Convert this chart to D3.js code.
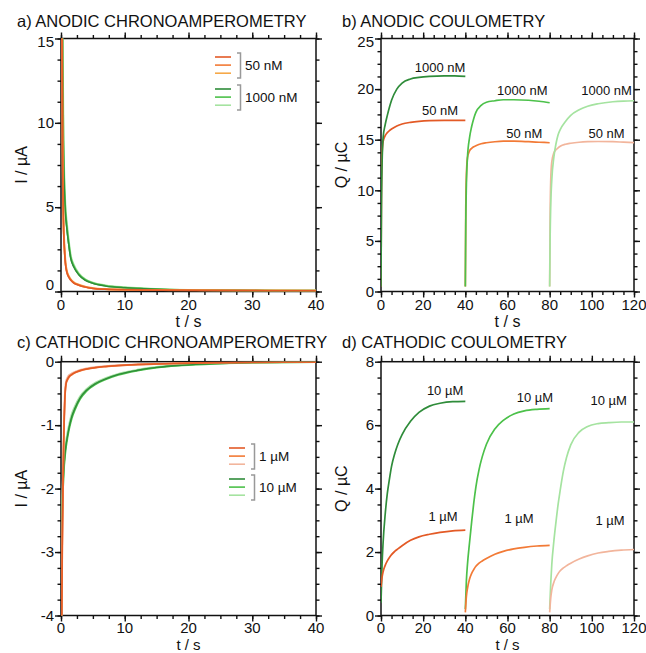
<!DOCTYPE html>
<html><head><meta charset="utf-8">
<script src="https://cdn.jsdelivr.net/npm/d3@7/dist/d3.min.js"></script>
<style>
body{margin:0;background:#fff;}
text{font-family:"Liberation Sans",Arial,Helvetica,sans-serif;fill:#111;}
</style></head>
<body>
<svg id="chart" width="646" height="653"></svg>
<script>
// ---------- DATA ----------
const titles = ["a) ANODIC CHRONOAMPEROMETRY","b) ANODIC COULOMETRY","c) CATHODIC CHRONOAMPEROMETRY","d) CATHODIC COULOMETRY"];
const xLabel = "t / s";
const yLabels = ["I / µA","Q / µC","I / µA","Q / µC"];

// panel a: anodic chronoamperometry (I / uA vs t / s)
const tA = [0.05,0.1,0.16,0.26,0.4,0.55,0.7,0.9,1.2,1.5,2,2.8,3.8,5,7,10,13,17,22,28,34,40];
const a50_1 = [40,24,15,7.6,3.8,2.4,1.6,1.15,0.85,0.68,0.5,0.37,0.26,0.18,0.13,0.1,0.085,0.075,0.065,0.055,0.05,0.045];
const a50_2 = [41,25,15.5,7.9,3.95,2.5,1.68,1.2,0.89,0.71,0.52,0.38,0.27,0.19,0.135,0.105,0.09,0.078,0.067,0.057,0.051,0.046];
const a50_3 = [42,26,16,8.2,4.1,2.6,1.75,1.25,0.92,0.74,0.54,0.4,0.28,0.2,0.14,0.11,0.092,0.08,0.069,0.058,0.052,0.047];
const a1000_1 = [60,35,22,13,8,5.8,4.6,3.75,2.8,2.0,1.45,0.98,0.66,0.48,0.32,0.22,0.16,0.11,0.08,0.06,0.05,0.045];
const a1000_2 = [61,36,22.5,13.4,8.3,6.0,4.75,3.9,2.9,2.08,1.51,1.02,0.69,0.5,0.34,0.23,0.17,0.115,0.083,0.062,0.052,0.046];
const a1000_3 = [62,37,23,13.8,8.6,6.2,4.9,4.05,3.0,2.16,1.57,1.06,0.72,0.52,0.355,0.24,0.175,0.12,0.086,0.064,0.053,0.047];

// panel b / d: coulometry, three consecutive 40 s runs
const segStarts = [0,40,80];
const tSegB = [0,0.2,0.5,1,2,3,4,5,7.5,10,14,18,23,30,35,40];
const b1000 = [
  [0.5,8,12.5,15.2,16.5,17.4,18.2,18.9,20.0,20.6,21.0,21.15,21.25,21.3,21.3,21.25],
  [0.5,6.5,10.5,13.2,15.2,16.3,17.1,17.7,18.4,18.7,18.85,18.95,18.95,18.9,18.8,18.65],
  [0.5,5,8.5,11,13.3,14.6,15.5,16.0,16.8,17.4,17.95,18.3,18.55,18.75,18.82,18.85]
];
const b50 = [
  [0.5,9,13.5,14.8,15.4,15.7,15.9,16.05,16.35,16.55,16.72,16.82,16.88,16.9,16.9,16.9],
  [0.5,8,11.5,13.2,13.9,14.15,14.3,14.4,14.6,14.7,14.8,14.85,14.85,14.8,14.75,14.7],
  [0.5,7,11,12.8,13.7,14.0,14.2,14.35,14.55,14.65,14.75,14.8,14.82,14.8,14.76,14.72]
];
const bLabels1000 = ["1000 nM","1000 nM","1000 nM"];
const bLabels50 = ["50 nM","50 nM","50 nM"];
// label anchor points (t, Q)
const bLabPos1000 = [[28,21.7],[67,19.4],[107,19.4]];
const bLabPos50 = [[28,17.4],[68,15.15],[107,15.15]];

// panel c: cathodic chronoamperometry
const tC = [0.02,0.1,0.2,0.3,0.4,0.5,0.6,0.7,0.8,1,1.3,1.7,2.2,3,4,5.5,7,9,12,15,19,24,30,35,40];
const c1_1 = [-6,-4.2,-2.9,-2.0,-1.35,-0.9,-0.58,-0.42,-0.34,-0.28,-0.23,-0.2,-0.17,-0.14,-0.115,-0.09,-0.075,-0.06,-0.045,-0.035,-0.025,-0.015,-0.01,-0.006,-0.004];
const c1_2 = [-6,-4.25,-2.95,-2.05,-1.4,-0.93,-0.6,-0.43,-0.35,-0.29,-0.24,-0.205,-0.175,-0.145,-0.118,-0.092,-0.077,-0.062,-0.046,-0.036,-0.026,-0.016,-0.01,-0.006,-0.004];
const c1_3 = [-6,-4.1,-2.8,-1.9,-1.28,-0.85,-0.55,-0.39,-0.31,-0.255,-0.21,-0.185,-0.16,-0.13,-0.108,-0.085,-0.07,-0.056,-0.042,-0.032,-0.023,-0.014,-0.009,-0.005,-0.003];
const c10_1 = [-6,-3.0,-2.35,-2.0,-1.76,-1.6,-1.48,-1.38,-1.3,-1.18,-1.02,-0.86,-0.73,-0.57,-0.45,-0.34,-0.27,-0.2,-0.135,-0.09,-0.055,-0.03,-0.015,-0.008,-0.005];
const c10_2 = [-6,-3.05,-2.4,-2.05,-1.8,-1.64,-1.52,-1.42,-1.34,-1.21,-1.05,-0.89,-0.755,-0.59,-0.465,-0.352,-0.28,-0.208,-0.14,-0.094,-0.058,-0.032,-0.016,-0.009,-0.005];
const c10_3 = [-6,-2.95,-2.3,-1.95,-1.72,-1.56,-1.44,-1.34,-1.26,-1.14,-0.99,-0.83,-0.705,-0.55,-0.435,-0.328,-0.26,-0.193,-0.13,-0.086,-0.052,-0.028,-0.014,-0.007,-0.004];

const tSegD = [0,0.5,1,2,3,4,5,6.5,8,10,14,18,23,28,34,40];
const d10 = [
  [0.4,1.6,2.3,3.2,3.85,4.3,4.7,5.1,5.4,5.7,6.12,6.4,6.6,6.69,6.74,6.75],
  [0.2,1.1,1.6,2.3,2.95,3.55,4.05,4.6,5.0,5.4,5.88,6.15,6.35,6.45,6.5,6.52],
  [0.2,1.0,1.6,2.35,2.95,3.5,3.95,4.55,4.98,5.38,5.78,5.96,6.05,6.08,6.1,6.1]
];
const d1 = [
  [0.9,1.2,1.38,1.58,1.72,1.83,1.92,2.02,2.1,2.2,2.37,2.48,2.56,2.62,2.67,2.69],
  [0.1,0.6,0.85,1.15,1.33,1.45,1.55,1.65,1.72,1.8,1.93,2.02,2.1,2.15,2.19,2.21],
  [0.1,0.55,0.8,1.05,1.2,1.32,1.41,1.5,1.57,1.65,1.78,1.88,1.97,2.02,2.06,2.08]
];
const dLabels10 = ["10 µM","10 µM","10 µM"];
const dLabels1 = ["1 µM","1 µM","1 µM"];
const dLabPos10 = [[30.4,6.95],[73,6.74],[108,6.63]];
const dLabPos1 = [[29.4,2.99],[65.5,2.9],[108.6,2.85]];

const legendA = ["50 nM","1000 nM"];
const legendC = ["1 µM","10 µM"];

// ---------- STYLE ----------
const orange = ["#e35a26","#f27a36","#f6a848"];
const salmon = ["#e35a26","#f27a36","#f2b59c"];
const green = ["#2f8c3a","#4cc14a","#a5e3a0"];

const svg = d3.select("#chart");
const panels = [
  {x0:61,x1:316,y0:38.5,y1:291.5,xd:[0,40],yd:[0,15],xMaj:10,xMin:2.5,yMaj:5,yMin:1.25,tx:17,ty:27,tlY:18.5,xlY:35,xlF:16},
  {x0:381,x1:634,y0:38.5,y1:291.5,xd:[0,120],yd:[0,25],xMaj:20,xMin:5,yMaj:5,yMin:1.25,tx:342,ty:27,tlY:18.5,xlY:35,xlF:16},
  {x0:61,x1:316,y0:361.7,y1:615.5,xd:[0,40],yd:[-4,0],xMaj:10,xMin:2.5,yMaj:1,yMin:0.25,tx:17,ty:348,tlY:17,xlY:34,xlF:15},
  {x0:381,x1:634,y0:361.7,y1:615.5,xd:[0,120],yd:[0,8],xMaj:20,xMin:5,yMaj:2,yMin:0.5,tx:342,ty:348,tlY:17,xlY:34,xlF:15}
];

function rng(a,b,s){const r=[];for(let v=a;v<=b+1e-9;v+=s)r.push(+v.toFixed(4));return r;}

panels.forEach((p,i)=>{
  p.x = d3.scaleLinear().domain(p.xd).range([p.x0,p.x1]);
  p.y = d3.scaleLinear().domain(p.yd).range([p.y1,p.y0]);
  const g = svg.append("g");
  const cid = "clip"+i;
  svg.append("clipPath").attr("id",cid).append("rect")
    .attr("x",p.x0).attr("y",p.y0).attr("width",p.x1-p.x0).attr("height",p.y1-p.y0);
  p.plot = svg.append("g").attr("clip-path",`url(#${cid})`);
  p.g = g;
  const xMaj = rng(p.xd[0],p.xd[1],p.xMaj), xMin = rng(p.xd[0],p.xd[1],p.xMin);
  const yMaj = rng(p.yd[0],p.yd[1],p.yMaj), yMin = rng(p.yd[0],p.yd[1],p.yMin);
  const mk = (axis, vals, len, pos)=>{
    const a = axis.tickValues(vals).tickSize(len).tickFormat("");
    const gg = g.append("g").attr("transform",pos).call(a);
    gg.select(".domain").remove();
    gg.selectAll("line").attr("stroke","#111").attr("stroke-width",1.4);
  };
  mk(d3.axisBottom(p.x),xMin,3.5,`translate(0,${p.y1})`);
  mk(d3.axisBottom(p.x),xMaj,6,`translate(0,${p.y1})`);
  mk(d3.axisTop(p.x),xMin,3.5,`translate(0,${p.y0})`);
  mk(d3.axisTop(p.x),xMaj,6,`translate(0,${p.y0})`);
  mk(d3.axisLeft(p.y),yMin,3.5,`translate(${p.x0},0)`);
  mk(d3.axisLeft(p.y),yMaj,6,`translate(${p.x0},0)`);
  mk(d3.axisRight(p.y),yMin,3.5,`translate(${p.x1},0)`);
  mk(d3.axisRight(p.y),yMaj,6,`translate(${p.x1},0)`);
  g.append("rect").attr("x",p.x0).attr("y",p.y0).attr("width",p.x1-p.x0).attr("height",p.y1-p.y0)
    .attr("fill","none").attr("stroke","#111").attr("stroke-width",1.5);
  g.selectAll(".xl").data(xMaj).join("text").attr("x",d=>p.x(d)).attr("y",p.y1+p.tlY)
    .attr("text-anchor","middle").attr("font-size",15).text(d=>d);
  g.selectAll(".yl").data(yMaj).join("text").attr("x",p.x0-7)
    .attr("y",d=>{let yy=p.y(d)+5.3; if(i<2 && d===p.yd[1]) yy+=3; if(i===0 && d===0) yy-=7; return yy;})
    .attr("text-anchor","end").attr("font-size",15).text(d=>d);
  g.append("text").attr("x",p.tx).attr("y",p.ty).attr("font-size",16.5).text(titles[i]);
  g.append("text").attr("x",(p.x0+p.x1)/2).attr("y",p.y1+p.xlY).attr("text-anchor","middle")
    .attr("font-size",p.xlF).text(xLabel);
  g.append("text").attr("transform",`translate(${p.x0-34},${(p.y0+p.y1)/2}) rotate(-90)`)
    .attr("text-anchor","middle").attr("font-size",16).text(yLabels[i]);
});

function drawLine(p, ts, vs, color, w){
  const line = d3.line().x(d=>p.x(d[0])).y(d=>p.y(d[1])).curve(d3.curveMonotoneX);
  p.plot.append("path").datum(ts.map((t,k)=>[t,vs[k]])).attr("d",line)
    .attr("fill","none").attr("stroke",color).attr("stroke-width",w||1.7);
}

// panel a
const pa = panels[0];
drawLine(pa,tA,a1000_3,green[2],2.2);
drawLine(pa,tA,a1000_2,green[1],1.8);
drawLine(pa,tA,a1000_1,green[0],1.4);
drawLine(pa,tA,a50_3,orange[2],2);
drawLine(pa,tA,a50_2,orange[1],1.7);
drawLine(pa,tA,a50_1,orange[0],1.5);

// panel c
const pc = panels[2];
drawLine(pc,tC,c10_3,green[2],2.2);
drawLine(pc,tC,c10_2,green[1],1.8);
drawLine(pc,tC,c10_1,green[0],1.4);
drawLine(pc,tC,c1_3,salmon[2],2);
drawLine(pc,tC,c1_2,salmon[1],1.7);
drawLine(pc,tC,c1_1,salmon[0],1.5);

const labG = svg.append("g");
// panel b
const pb = panels[1];
segStarts.forEach((s,k)=>{
  const ts = tSegB.map(t=>t+s);
  drawLine(pb,ts,b50[k],salmon[k],1.7);
  drawLine(pb,ts,b1000[k],green[k],1.7);
  labG.append("text").attr("x",pb.x(bLabPos1000[k][0])).attr("y",pb.y(bLabPos1000[k][1]))
    .attr("text-anchor","middle").attr("font-size",13).text(bLabels1000[k]);
  labG.append("text").attr("x",pb.x(bLabPos50[k][0])).attr("y",pb.y(bLabPos50[k][1]))
    .attr("text-anchor","middle").attr("font-size",13).text(bLabels50[k]);
});

// panel d
const pd = panels[3];
segStarts.forEach((s,k)=>{
  const ts = tSegD.map(t=>t+s);
  drawLine(pd,ts,d10[k],green[k],1.7);
  drawLine(pd,ts,d1[k],salmon[k],1.7);
  labG.append("text").attr("x",pd.x(dLabPos10[k][0])).attr("y",pd.y(dLabPos10[k][1]))
    .attr("text-anchor","middle").attr("font-size",13).text(dLabels10[k]);
  labG.append("text").attr("x",pd.x(dLabPos1[k][0])).attr("y",pd.y(dLabPos1[k][1]))
    .attr("text-anchor","middle").attr("font-size",13).text(dLabels1[k]);
});

// legends
function legend(xL, yTop, gap, groups){
  const lg = svg.append("g");
  groups.forEach((gr,gi)=>{
    const y0 = yTop + gi*gap;
    gr.colors.forEach((c,ci)=>{
      lg.append("line").attr("x1",xL).attr("x2",xL+16).attr("y1",y0+4+ci*8.1).attr("y2",y0+4+ci*8.1)
        .attr("stroke",c).attr("stroke-width",1.6);
    });
    const bx = xL+22;
    lg.append("path").attr("d",`M${bx},${y0} H${bx+3.5} V${y0+25} H${bx}`)
      .attr("fill","none").attr("stroke","#999").attr("stroke-width",1.5);
    lg.append("text").attr("x",bx+8).attr("y",y0+17).attr("font-size",13.5).text(gr.label);
  });
}
legend(215,53,32,[{label:legendA[0],colors:orange},{label:legendA[1],colors:green}]);
legend(229,444,31,[{label:legendC[0],colors:salmon},{label:legendC[1],colors:green}]);
</script>
</body></html>
